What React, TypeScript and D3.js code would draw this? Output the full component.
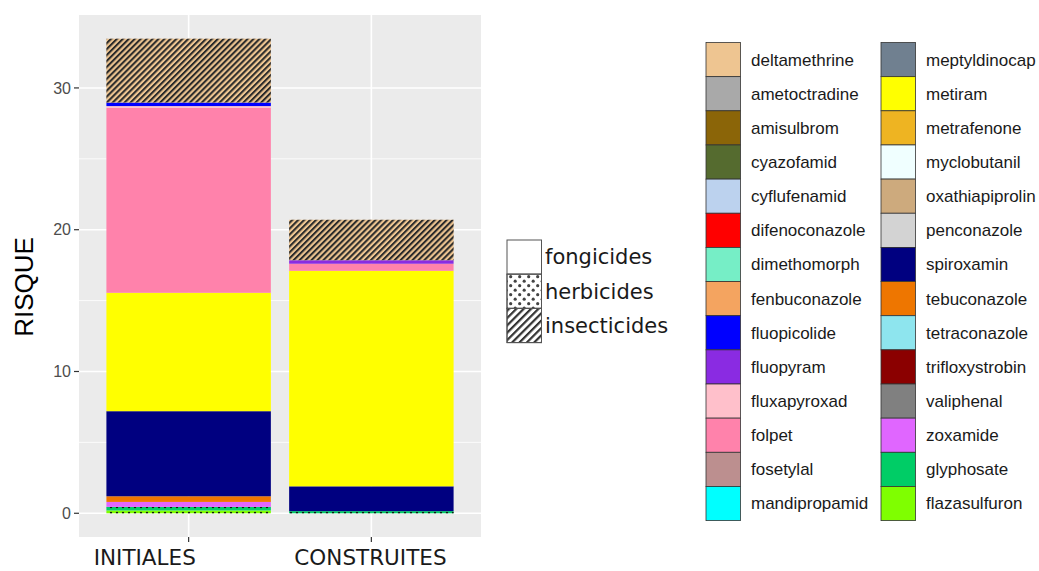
import * as d3 from 'd3';

const W = 1039;
const H = 571;

const categories = ['INITIALES', 'CONSTRUITES'];

const products = [
  'deltamethrine', 'ametoctradine', 'amisulbrom', 'cyazofamid', 'cyflufenamid', 'difenoconazole',
  'dimethomorph', 'fenbuconazole', 'fluopicolide', 'fluopyram', 'fluxapyroxad', 'folpet',
  'fosetylal', 'mandipropamid', 'meptyldinocap', 'metiram', 'metrafenone', 'myclobutanil',
  'oxathiapiprolin', 'penconazole', 'spiroxamin', 'tebuconazole', 'tetraconazole',
  'trifloxystrobin', 'valiphenal', 'zoxamide', 'glyphosate', 'flazasulfuron',
];

const productColors = [
  '#EEC591', '#A9A9A9', '#8B6508', '#556B2F', '#BCD2EE', '#FF0000',
  '#76EEC6', '#F4A460', '#0000FF', '#8A2BE2', '#FFC0CB', '#FF82AB',
  '#BC8F8F', '#00FFFF', '#708090', '#FFFF00', '#EEB422', '#F0FFFF',
  '#CDAA7D', '#D3D3D3', '#000080', '#EE7600', '#8EE5EE',
  '#8B0000', '#808080', '#E066FF', '#00CD66', '#7FFF00',
];

const insecticides = ['deltamethrine'];
const herbicides = ['glyphosate', 'flazasulfuron'];

const typeLabels = ['fongicides', 'herbicides', 'insecticides'];

// risk per product (missing = 0)
const initialesValues: Record<string, number> = {
  flazasulfuron: 0.2,
  glyphosate: 0.25,
  zoxamide: 0.35,
  tebuconazole: 0.4,
  spiroxamin: 6.0,
  metiram: 8.35,
  folpet: 13.05,
  fluxapyroxad: 0.12,
  fluopicolide: 0.25,
  deltamethrine: 4.5,
};

const construitesValues: Record<string, number> = {
  glyphosate: 0.15,
  spiroxamin: 1.75,
  metiram: 15.2,
  folpet: 0.5,
  fluopyram: 0.25,
  deltamethrine: 2.85,
};

const yTicks = [0, 10, 20, 30];
const yMinorTicks = [5, 15, 25];

const panel = { left: 79, right: 481, top: 15, bottom: 537 };

function typeOf(p: string) {
  if (insecticides.includes(p)) return 'insecticides';
  if (herbicides.includes(p)) return 'herbicides';
  return 'fongicides';
}

export default function App() {
  const rows = [initialesValues, construitesValues].map((v, i) => {
    const row: Record<string, any> = { cat: categories[i] };
    products.forEach((p) => (row[p] = v[p] ?? 0));
    return row;
  });

  // first legend entry ends up on top of the stack
  const keys = products.slice().reverse();
  const series = d3.stack<any>().keys(keys)(rows);

  const totals = rows.map((r) => d3.sum(products, (p) => r[p]));
  const maxTotal = d3.max(totals) ?? 0;
  const pad = maxTotal * 0.05;

  const y = d3.scaleLinear().domain([-pad, maxTotal + pad]).range([panel.bottom, panel.top]);

  const unit = (panel.right - panel.left) / 2.2;
  const xCenter = (i: number) => panel.left + unit * (0.6 + i);
  const barW = unit * 0.9;

  const color = d3.scaleOrdinal<string, string>().domain(products).range(productColors);

  const labelOffset = [-95, -77];

  const legendTop = 42.5;
  const keyH = 34.15;
  const colX = [706, 881];

  const typeTop = 240;
  const typeH = 34.2;

  return (
    <svg width={W} height={H} style={{ position: 'absolute', left: 0, top: 0, background: '#fff' }}>
      <defs>
        <pattern id="stripes" patternUnits="userSpaceOnUse" width={4.2} height={4.2} patternTransform="rotate(45)">
          <line x1={1} y1={0} x2={1} y2={4.2} stroke="#2b2b2b" strokeWidth={2.1} />
        </pattern>
        <pattern id="stripesKey" patternUnits="userSpaceOnUse" width={5.2} height={5.2} patternTransform="rotate(45)">
          <line x1={1} y1={0} x2={1} y2={5.2} stroke="#333" strokeWidth={2.4} />
        </pattern>
        <pattern id="dots" patternUnits="userSpaceOnUse" width={6} height={6}>
          <circle cx={3} cy={3} r={1.2} fill="#111" />
        </pattern>
        <pattern id="dotsKey" patternUnits="userSpaceOnUse" width={9} height={9}>
          <circle cx={2.2} cy={2.2} r={1.6} fill="#444" />
          <circle cx={6.7} cy={6.7} r={1.6} fill="#444" />
        </pattern>
      </defs>

      <rect x={panel.left} y={panel.top} width={panel.right - panel.left} height={panel.bottom - panel.top} fill="#EBEBEB" />

      {yMinorTicks.map((t) => (
        <line key={'mn' + t} x1={panel.left} x2={panel.right} y1={y(t)} y2={y(t)} stroke="#fff" strokeWidth={0.8} />
      ))}
      {yTicks.map((t) => (
        <line key={'mj' + t} x1={panel.left} x2={panel.right} y1={y(t)} y2={y(t)} stroke="#fff" strokeWidth={1.6} />
      ))}
      {categories.map((c, i) => (
        <line key={'vx' + c} x1={xCenter(i)} x2={xCenter(i)} y1={panel.top} y2={panel.bottom} stroke="#fff" strokeWidth={1.6} />
      ))}

      {series.map((s) =>
        s.map((d, i) => {
          if (d[1] - d[0] <= 0) return null;
          const p = s.key;
          const t = typeOf(p);
          const x0 = xCenter(i) - barW / 2;
          const yTop = y(d[1]);
          const h = y(d[0]) - y(d[1]);
          return (
            <g key={p + i}>
              <rect x={x0} y={yTop} width={barW} height={h} fill={color(p)} />
              {t === 'insecticides' && <rect x={x0} y={yTop} width={barW} height={h} fill="url(#stripes)" />}
              {t === 'herbicides' && <rect x={x0} y={yTop} width={barW} height={h} fill="url(#dots)" />}
            </g>
          );
        })
      )}

      {yTicks.map((t) => (
        <g key={'yt' + t}>
          <line x1={panel.left - 5} x2={panel.left} y1={y(t)} y2={y(t)} stroke="#333" strokeWidth={1.2} />
          <text x={panel.left - 8} y={y(t)} dy="0.36em" textAnchor="end" fontFamily="Liberation Sans, Arial" fontSize={16} fill="#4d4d4d">
            {t}
          </text>
        </g>
      ))}

      {categories.map((c, i) => (
        <g key={'xt' + c}>
          <line x1={xCenter(i)} x2={xCenter(i)} y1={panel.bottom} y2={panel.bottom + 5} stroke="#333" strokeWidth={1.2} />
          <text x={xCenter(i) + labelOffset[i]} y={565} textAnchor="start" fontFamily="DejaVu Sans" fontSize={21.5} fill="#1a1a1a">
            {c}
          </text>
        </g>
      ))}

      <text
        transform={`translate(33, 287) rotate(-90)`}
        textAnchor="middle"
        fontFamily="Liberation Sans, Arial"
        fontSize={26}
        fill="#000"
      >
        RISQUE
      </text>

      {typeLabels.map((t, i) => (
        <g key={'tl' + t}>
          <rect x={507} y={typeTop + i * typeH} width={34.5} height={typeH} fill="#fff" stroke="#555" strokeWidth={1} />
          {t === 'herbicides' && <rect x={507} y={typeTop + i * typeH} width={34.5} height={typeH} fill="url(#dotsKey)" stroke="#555" strokeWidth={1} />}
          {t === 'insecticides' && <rect x={507} y={typeTop + i * typeH} width={34.5} height={typeH} fill="url(#stripesKey)" stroke="#555" strokeWidth={1} />}
          <text x={545} y={typeTop + i * typeH + typeH / 2} dy="0.35em" fontFamily="DejaVu Sans" fontSize={21} fill="#1a1a1a">
            {t}
          </text>
        </g>
      ))}

      {products.map((p, i) => {
        const col = Math.floor(i / 14);
        const row = i % 14;
        const yy = legendTop + row * keyH;
        return (
          <g key={'lg' + p}>
            <rect x={colX[col]} y={yy} width={34.5} height={keyH} fill={color(p)} stroke="#333" strokeWidth={0.8} />
            <text x={colX[col] + 45} y={yy + keyH / 2} dy="0.35em" fontFamily="Liberation Sans, Arial" fontSize={17} fill="#1a1a1a">
              {p}
            </text>
          </g>
        );
      })}
    </svg>
  );
}
